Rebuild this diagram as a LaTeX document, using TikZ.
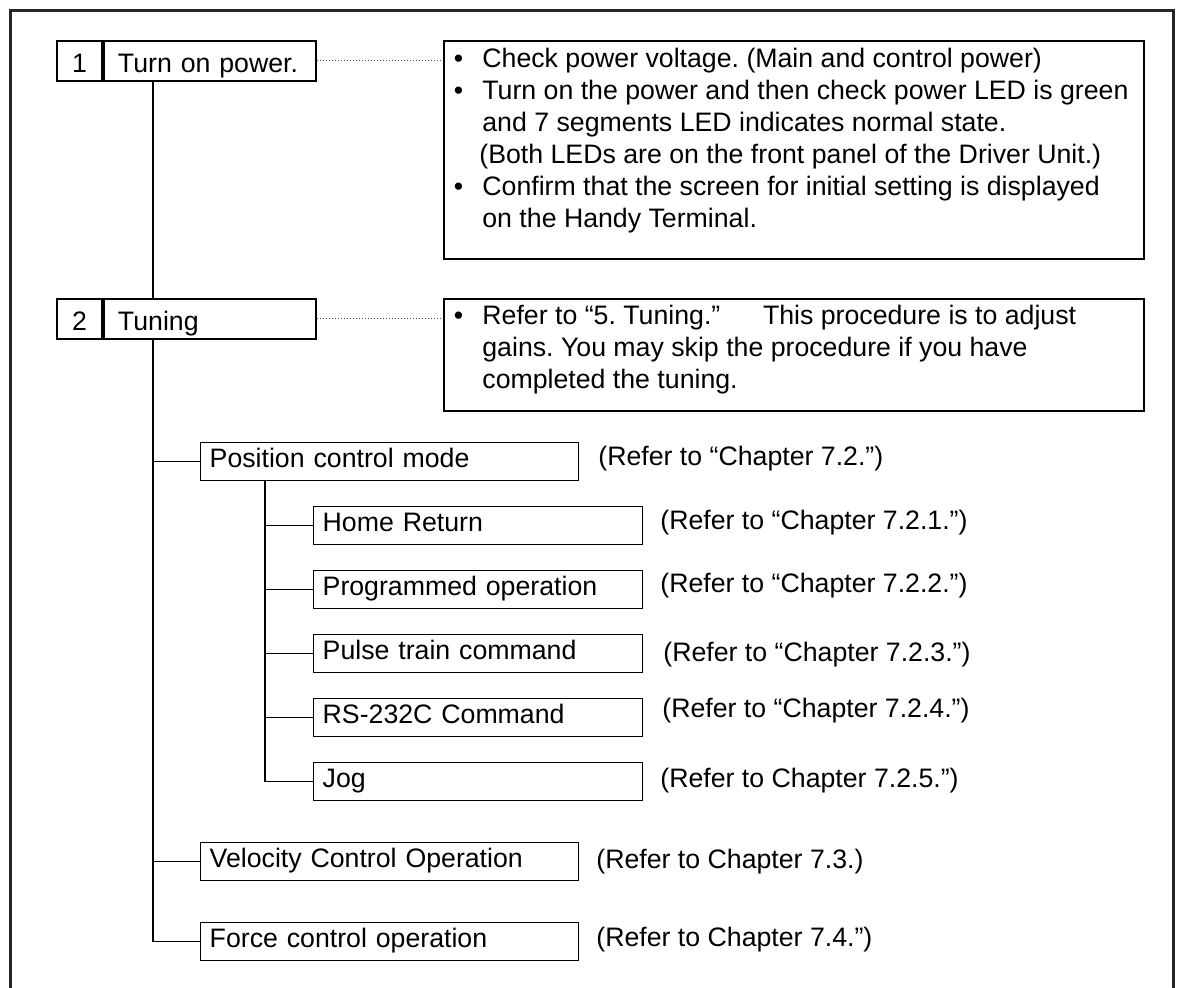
\documentclass[tikz,border=0pt]{standalone}
\usepackage{fontspec}
\setmainfont{Liberation Sans}
\frenchspacing
\begin{document}
\begin{tikzpicture}[x=0.5pt,y=-0.5pt,
  font=\fontsize{13.35}{16}\selectfont,
  frame/.style={line width=1.5pt, black!85},
  stepnum/.style={draw, line width=1pt, inner sep=0pt, anchor=north west,
    minimum width=22.5pt, text height=16pt, text depth=4pt, align=center},
  steptitle/.style={draw, line width=1pt, inner ysep=0pt, inner xsep=7pt, anchor=north west,
    text width=92pt, text height=16pt, text depth=4pt, align=left},
  infobox/.style={draw, line width=0.9pt, inner sep=0pt, anchor=north west, minimum width=350pt},
  itxt/.style={anchor=base west, inner sep=0pt},
  tbox/.style={draw, line width=0.7pt, inner ysep=0pt, inner xsep=4.5pt, anchor=north west,
    text height=12.5pt, text depth=6.5pt, align=left},
  wide/.style={tbox, text width=180pt},
  narrow/.style={tbox, text width=155.5pt},
  ref/.style={anchor=base west, inner sep=0pt},
  conn/.style={line width=0.75pt},
  dotline/.style={line width=0.5pt, densely dotted, black!70}
]
\useasboundingbox (0,0) rectangle (1180,988);
% outer frame (open at the bottom)
\draw[frame] (10.5,988) -- (10.5,10.5) -- (1173,10.5) -- (1173,988);

% step 1
\node[stepnum] (n1) at (56,40) {1};
\node[steptitle] (t1) at (n1.north east) {Turn on power.};
\node[infobox, minimum height=109pt] (info1) at (443,40) {};
\node[itxt] (b11) at (453.5,68) {•};
\node[itxt] (l11) at (482,68) {Check power voltage. (Main and control power)};
\node[itxt] (b12) at (453.5,100) {•};
\node[itxt] (l12) at (482,100) {Turn on the power and then check power LED is green};
\node[itxt] (l13) at (482,132) {and 7 segments LED indicates normal state.};
\node[itxt] (l14) at (479,164) {(Both LEDs are on the front panel of the Driver Unit.)};
\node[itxt] (b15) at (453.5,196) {•};
\node[itxt] (l15) at (482,196) {Confirm that the screen for initial setting is displayed};
\node[itxt] (l16) at (482,228) {on the Handy Terminal.};

% step 2
\node[stepnum] (n2) at (56,298) {2};
\node[steptitle] (t2) at (n2.north east) {Tuning};
\node[infobox, minimum height=56pt] (info2) at (443,298) {};
\node[itxt] (b21) at (453.5,325) {•};
\node[itxt] (l21) at (482,325) {Refer to “5. Tuning.”\hspace{1.6em}This procedure is to adjust};
\node[itxt] (l22) at (482,357) {gains. You may skip the procedure if you have};
\node[itxt] (l23) at (482,389) {completed the tuning.};

\draw[dotline] (t1.east) -- (t1.east -| info1.west);
\draw[dotline] (t2.east) -- (t2.east -| info2.west);

% tree boxes
\node[wide] (pos) at (200,442) {Position control mode};
\node[narrow] (home) at (313,506) {Home Return};
\node[narrow] (prog) at (313,570) {Programmed operation};
\node[narrow] (pulse) at (313,634) {Pulse train command};
\node[narrow] (rs) at (313,698) {RS-232C Command};
\node[narrow] (jog) at (313,762) {Jog};
\node[wide] (vel) at (200,842) {Velocity Control Operation};
\node[wide] (force) at (200,922) {Force control operation};

% references
\node[ref] (rpos) at (598,466) {(Refer to “Chapter 7.2.”)};
\node[ref] (rhome) at (660,530) {(Refer to “Chapter 7.2.1.”)};
\node[ref] (rprog) at (660,593) {(Refer to “Chapter 7.2.2.”)};
\node[ref] (rpulse) at (663,662) {(Refer to “Chapter 7.2.3.”)};
\node[ref] (rrs) at (662,718) {(Refer to “Chapter 7.2.4.”)};
\node[ref] (rjog) at (660,788) {(Refer to Chapter 7.2.5.”)};
\node[ref] (rvel) at (596,869) {(Refer to Chapter 7.3.)};
\node[ref] (rforce) at (596,947) {(Refer to Chapter 7.4.”)};

% connectors
\coordinate (trunk) at (153,0);
\coordinate (sub) at (265,0);
\draw[conn] (trunk |- t1.south) -- (trunk |- t2.north);
\draw[conn] (trunk |- t2.south) -- (trunk |- force.west) -- (force.west);
\draw[conn] (trunk |- pos.west) -- (pos.west);
\draw[conn] (trunk |- vel.west) -- (vel.west);
\draw[conn] (sub |- pos.south) -- (sub |- jog.west) -- (jog.west);
\draw[conn] (sub |- home.west) -- (home.west);
\draw[conn] (sub |- prog.west) -- (prog.west);
\draw[conn] (sub |- pulse.west) -- (pulse.west);
\draw[conn] (sub |- rs.west) -- (rs.west);
\end{tikzpicture}
\end{document}
